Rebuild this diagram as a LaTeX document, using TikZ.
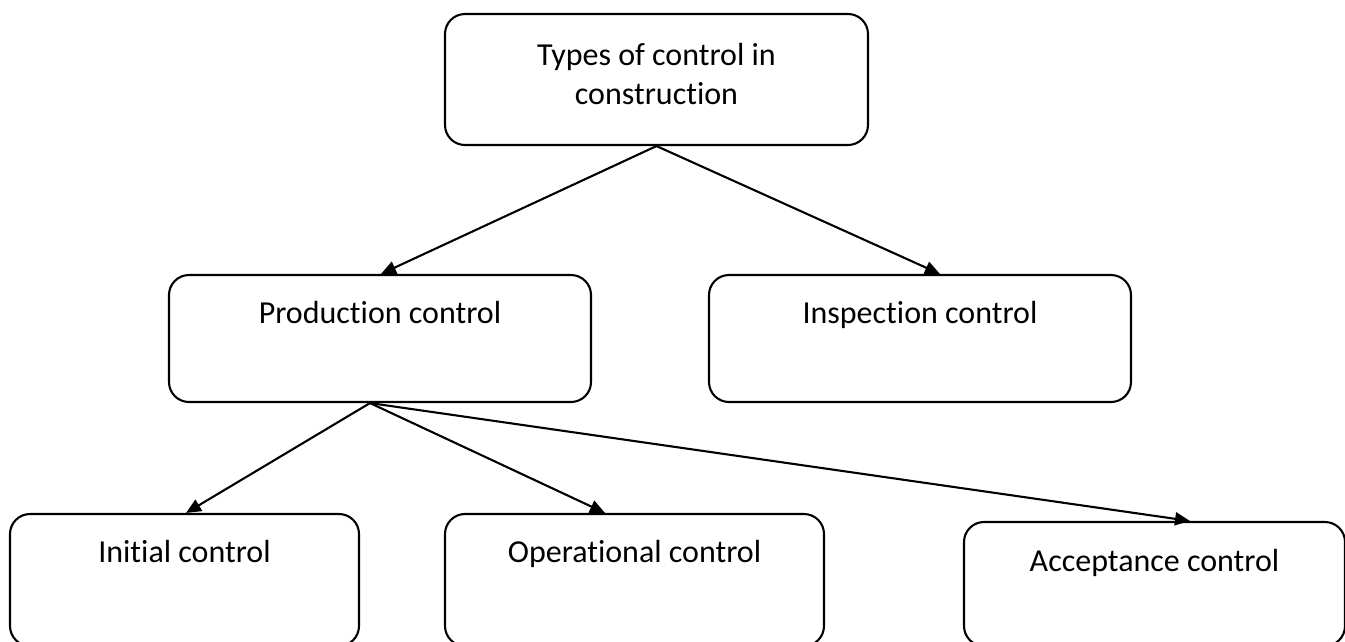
\documentclass[tikz,border=0pt]{standalone}
\usepackage{fontspec}
\setmainfont{Carlito}[Ligatures=NoCommon]
\usetikzlibrary{arrows.meta,calc}
\begin{document}
\begin{tikzpicture}[x=1pt,y=-1pt,
  box/.style={draw,line width=2.1pt,rounded corners=20pt,minimum width=#1,inner sep=0pt},
  lbl/.style={font=\fontsize{32}{39}\selectfont,inner sep=0pt,anchor=base,align=center},
  arr/.style={line width=2.1pt,-{Triangle[length=15pt,width=13pt]}}]
\useasboundingbox (0,0) rectangle (1345,641);
\clip (0,0) rectangle (1345,641);
\node[box=423pt,minimum height=131pt] (top) at (656.5,79.5) {};
\node[box=422pt,minimum height=127pt] (prod) at (380,338.5) {};
\node[box=422pt,minimum height=127pt] (insp) at (920,338.5) {};
\node[box=349pt,minimum height=132pt] (init) at (184.5,580) {};
\node[box=379pt,minimum height=132pt] (oper) at (634.5,580) {};
\node[box=381pt,minimum height=124pt] (acc) at (1154.5,584) {};
\node[lbl] (ttop) at (656.5,104) {Types of control in\\construction};
\node[lbl] (tprod) at (380,323) {Production control};
\node[lbl] (tinsp) at (920,323) {Inspection control};
\node[lbl] (tinit) at (184.5,562) {Initial control};
\node[lbl] (toper) at (634.5,562) {Operational control};
\node[lbl] (tacc) at (1154.5,571) {Acceptance control};
\coordinate (s1) at (top.south);
\coordinate (s2) at ($(prod.south)+(-10,0)$);
\draw[arr] (s1) -- ($(prod.north)+(1,0)$);
\draw[arr] (s1) -- ($(insp.north)+(20,0)$);
\draw[arr] (s2) -- ($(init.north)+(1.5,0)$);
\draw[arr] (s2) -- ($(oper.north)+(-29.5,0)$);
\draw[arr] (s2) -- ($(acc.north)+(35.5,0)$);
\end{tikzpicture}
\end{document}
